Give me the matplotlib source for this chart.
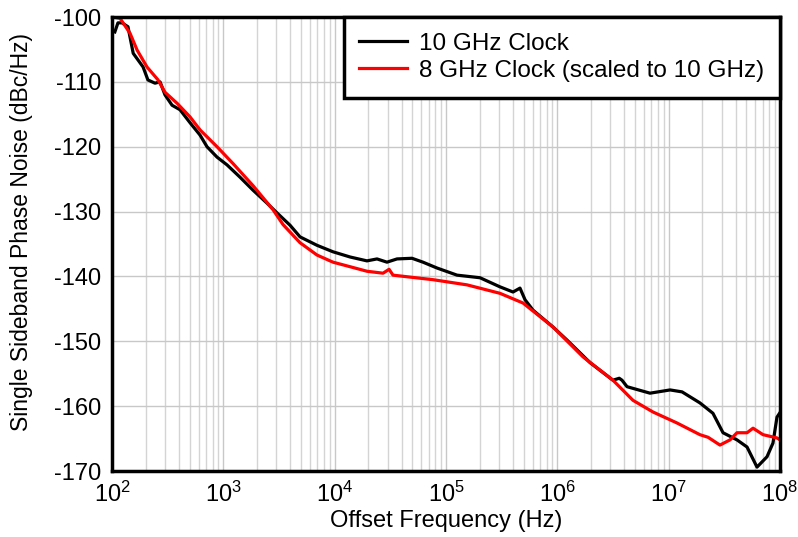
import numpy as np
import matplotlib.pyplot as plt
from matplotlib.ticker import LogLocator, NullFormatter, MultipleLocator

plt.rcParams['font.family'] = ['Liberation Sans', 'DejaVu Sans']
plt.rcParams['axes.unicode_minus'] = False

# 10 GHz clock
freq_10g = [106, 113, 123, 139, 155, 190, 210, 243, 270, 299, 346, 408, 502, 617, 713,
            877, 1079, 1412, 1847, 2466, 3033, 3970, 4883, 6938, 9660, 13740, 19500,
            24000, 29500, 36300, 49500, 62100, 83000, 125600, 202000, 305000, 400000,
            462000, 513000, 605000, 915000, 1.22e6, 1.97e6, 3.16e6, 3.6e6, 3.81e6, 4.23e6,
            6.8e6, 1.03e7, 1.32e7, 1.91e7, 2.5e7, 3.08e7, 4.11e7, 5.06e7, 6.22e7, 7.65e7,
            8.65e7, 9.4e7, 1e8]
pn_10g = [-102.3, -100.9, -100.9, -101.5, -105.6, -107.7, -109.7, -110.2, -110.0, -112.0,
          -113.6, -114.3, -116.3, -118.2, -120.0, -121.6, -122.8, -124.7, -126.7, -128.7,
          -130.2, -132.1, -133.9, -135.2, -136.2, -137.0, -137.6, -137.3, -137.8, -137.3,
          -137.2, -137.8, -138.7, -139.8, -140.2, -141.6, -142.4, -141.8, -143.6, -145.2,
          -147.8, -149.8, -153.3, -156.0, -155.7, -156.0, -157.0, -158.0, -157.5, -157.8,
          -159.5, -161.1, -164.1, -165.2, -166.3, -169.4, -167.8, -165.7, -161.7, -161.0]

# 8 GHz clock scaled to 10 GHz
freq_8g = [102, 118, 145, 168, 206, 259, 299, 384, 502, 617, 877, 1222, 1847, 2790, 3435,
           4883, 6938, 9660, 13740, 19500, 27200, 30800, 33400, 47500, 76400, 154500,
           305000, 492000, 915000, 1.70e6, 3.16e6, 4.78e6, 7.23e6, 1.19e7, 1.91e7, 2.26e7,
           2.89e7, 3.56e7, 4.11e7, 5.06e7, 5.73e7, 7.05e7, 9.4e7, 1e8]
pn_8g = [-100.0, -100.2, -102.5, -105.1, -107.7, -109.7, -111.6, -113.3, -115.4, -117.4,
         -120.0, -122.6, -126.0, -129.7, -132.0, -134.8, -136.7, -137.8, -138.5, -139.2,
         -139.5, -138.9, -139.8, -140.1, -140.5, -141.3, -142.6, -144.1, -147.8, -152.4,
         -156.0, -159.1, -160.9, -162.6, -164.4, -164.8, -166.0, -165.2, -164.1, -164.1,
         -163.4, -164.4, -164.9, -165.2]

x_ticks = [1e2, 1e3, 1e4, 1e5, 1e6, 1e7, 1e8]
x_ticklabels = [r'$\mathdefault{10^{%d}}$' % p for p in range(2, 9)]

fig = plt.figure(figsize=(7.98, 5.37), dpi=100)
ax = fig.add_axes([0.1404, 0.1229, 0.837, 0.8454])

ax.semilogx(freq_10g, pn_10g, color='black', lw=2.3, label='10 GHz Clock')
ax.semilogx(freq_8g, pn_8g, color='#ff0000', lw=2.3, label='8 GHz Clock (scaled to 10 GHz)')

ax.set_xlim(1e2, 1e8)
ax.set_ylim(-170, -100)
ax.yaxis.set_major_locator(MultipleLocator(10))
ax.set_xticks(x_ticks)
ax.set_xticklabels(x_ticklabels)
ax.xaxis.set_minor_locator(LogLocator(base=10, subs=np.arange(2, 10), numticks=20))
ax.xaxis.set_minor_formatter(NullFormatter())

ax.grid(True, which='major', color='#c8c8c8', lw=1.0)
ax.grid(True, which='minor', axis='x', color='#d4d4d4', lw=1.0)
ax.tick_params(which='both', length=0, labelsize=17)
ax.tick_params(axis='y', pad=8)
ax.tick_params(axis='x', pad=8)

for s in ax.spines.values():
    s.set_linewidth(2.5)

ax.set_xlabel('Offset Frequency (Hz)', fontsize=17, labelpad=2)
ax.set_ylabel('Single Sideband Phase Noise (dBc/Hz)', fontsize=16.5)
ax.yaxis.set_label_coords(-0.118, 0.526)

leg = ax.legend(loc='upper right', fontsize=17.5, fancybox=False, framealpha=1,
                edgecolor='black', borderaxespad=0, handlelength=1.95,
                handletextpad=0.5, labelspacing=0.2, borderpad=0.65)
leg.get_frame().set_linewidth(2.5)

fig.savefig('out.png', dpi=100)
